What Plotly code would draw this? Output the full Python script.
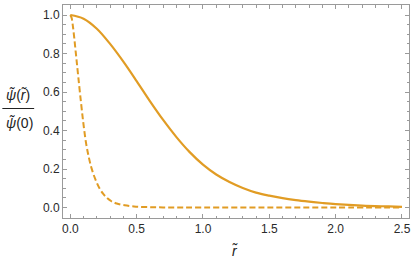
import plotly.graph_objects as go

# Solid curve (wide profile)
r_solid = [0.0, 0.1, 0.2, 0.3, 0.4, 0.5, 0.6, 0.7, 0.8, 0.9, 1.0, 1.1, 1.2, 1.3,
           1.4, 1.5, 1.6, 1.7, 1.8, 1.9, 2.0, 2.2, 2.4, 2.5]
psi_solid = [1.0, 0.981, 0.929, 0.850, 0.758, 0.657, 0.553, 0.455, 0.366, 0.288,
             0.223, 0.172, 0.133, 0.102, 0.078, 0.062, 0.049, 0.039, 0.031, 0.024,
             0.018, 0.010, 0.006, 0.004]

# Dashed curve (narrow profile)
r_dashed = [0.0, 0.01, 0.02, 0.03, 0.045, 0.06, 0.08, 0.10, 0.12, 0.14, 0.16, 0.19,
            0.22, 0.25, 0.28, 0.31, 0.35, 0.41, 0.48, 0.56, 0.7, 1.0, 1.5, 2.0, 2.5]
psi_dashed = [1.0, 0.985, 0.94, 0.88, 0.78, 0.68, 0.55, 0.43, 0.33, 0.26, 0.205, 0.145,
              0.10, 0.07, 0.048, 0.033, 0.021, 0.012, 0.006, 0.003, 0.001, 0.0002,
              0.0, 0.0, 0.0]

x_ticks = [0.0, 0.5, 1.0, 1.5, 2.0, 2.5]
x_ticklabels = ["0.0", "0.5", "1.0", "1.5", "2.0", "2.5"]
y_ticks = [0.0, 0.2, 0.4, 0.6, 0.8, 1.0]
y_ticklabels = ["0.0", "0.2", "0.4", "0.6", "0.8", "1.0"]

color = "#E19C24"
frame = "#9a9a9a"
font = "Liberation Sans"

fig = go.Figure()
fig.add_trace(go.Scatter(x=r_solid, y=psi_solid, mode="lines", line_shape="spline",
                         line=dict(color=color, width=2.2)))
fig.add_trace(go.Scatter(x=r_dashed, y=psi_dashed, mode="lines", line_shape="spline",
                         line=dict(color=color, width=2, dash="6px,3px")))

L, R, T, B = 63, 4, 4, 46
W, H = 415, 264
PW, PH = W - L - R, H - T - B

def px(x):
    return (x - L) / PW

def py(y):
    return (H - B - y) / PH

axis_common = dict(showgrid=False, zeroline=False, showline=True, linecolor=frame,
                   linewidth=1, mirror="allticks", ticks="inside", ticklen=4,
                   tickcolor=frame, tickwidth=1,
                   tickfont=dict(family=font, size=12, color="#2a2a2a"))

fig.update_xaxes(range=[-0.055, 2.553], tickvals=x_ticks, ticktext=x_ticklabels,
                 minor=dict(dtick=0.1, tick0=0, ticks="inside", ticklen=2.5,
                            tickcolor=frame, tickwidth=1),
                 **axis_common)
fig.update_yaxes(range=[-0.054, 1.052], tickvals=y_ticks, ticktext=y_ticklabels,
                 minor=dict(dtick=0.05, tick0=0, ticks="inside", ticklen=2.5,
                            tickcolor=frame, tickwidth=1),
                 **axis_common)

label_font = dict(family=font, size=14, color="#222222")
fig.add_annotation(x=px(18), y=py(94), xref="paper", yref="paper",
                   xanchor="center", yanchor="middle",
                   text="<i>ψ̃</i>(<i>r̃</i>)", showarrow=False, font=label_font)
fig.add_annotation(x=px(19), y=py(123), xref="paper", yref="paper",
                   xanchor="center", yanchor="middle",
                   text="<i>ψ̃</i>(0)", showarrow=False, font=label_font)
fig.add_shape(type="line", xref="paper", yref="paper",
              x0=px(2), x1=px(34), y0=py(108), y1=py(108),
              line=dict(color="#222222", width=1))
fig.add_annotation(x=px(236), y=py(251), xref="paper", yref="paper",
                   xanchor="center", yanchor="middle",
                   text="<i>r̃</i>", showarrow=False, font=label_font)

fig.update_layout(width=W, height=H, margin=dict(l=L, r=R, t=T, b=B),
                  paper_bgcolor="white", plot_bgcolor="white", showlegend=False)

fig.write_html("out.html", config={"displayModeBar": False},
               post_script="document.body.style.margin='0px';")
